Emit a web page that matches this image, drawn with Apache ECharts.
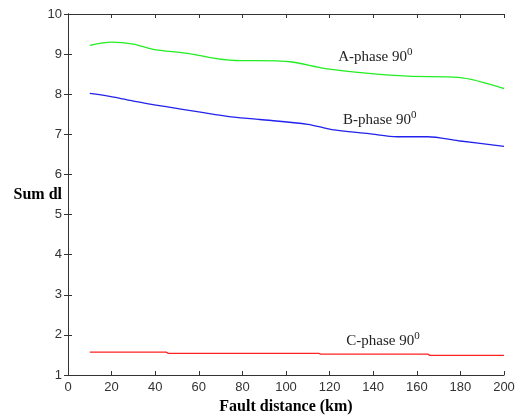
<!DOCTYPE html>
<html>
<head>
<meta charset="utf-8">
<script src="https://cdn.jsdelivr.net/npm/echarts@6/dist/echarts.min.js"></script>
<style>
  html, body { margin: 0; padding: 0; background: #fff; }
  #main { width: 518px; height: 416px; }
</style>
</head>
<body>
<div id="main"></div>
<script>
// values
const distA = [10, 20, 30, 39, 55, 68, 79, 87, 102, 118, 138, 156, 179, 200];
const phaseA = [9.22, 9.3, 9.25, 9.12, 9.02, 8.89, 8.84, 8.84, 8.81, 8.64, 8.52, 8.45, 8.42, 8.14];

const distB = [10, 21, 30, 45, 60, 76, 88, 110, 121, 138, 151, 165, 179, 200];
const phaseB = [8.02, 7.93, 7.83, 7.69, 7.56, 7.43, 7.37, 7.25, 7.12, 7.02, 6.94, 6.94, 6.84, 6.7];

const distC = [10, 45, 46, 115, 116, 165, 166, 200];
const phaseC = [1.57, 1.57, 1.54, 1.54, 1.52, 1.52, 1.49, 1.49];

const labelsText = ['{a|A-phase 90}{s|0}', '{a|B-phase 90}{s|0}', '{a|C-phase 90}{s|0}'];
const labelsAt = [[141, 8.97], [143, 7.4], [144.5, 1.89]];

function pairs(xs, ys) {
  return xs.map(function (x, i) { return [x, ys[i]]; });
}

let myChart = echarts.init(document.getElementById('main'));

const axisLine = { show: true, lineStyle: { color: '#333', width: 1 } };
const tickIn = { show: true, inside: true, length: 4, lineStyle: { color: '#333' } };
const serif = '"Liberation Serif", "DejaVu Serif", serif';
const sans = '"Liberation Sans", Arial, sans-serif';

const phaseLabel = {
  color: '#222',
  fontFamily: serif,
  rich: {
    a: { fontFamily: serif, fontSize: 15, color: '#222', lineHeight: 18, verticalAlign: 'bottom' },
    s: { fontFamily: serif, fontSize: 11, color: '#222', lineHeight: 18, verticalAlign: 'top', padding: [0, 0, 6, 0] }
  }
};

function markFor(i) {
  return {
    symbolSize: 0,
    data: [{ coord: labelsAt[i], label: { show: true, formatter: labelsText[i] } }],
    label: phaseLabel
  };
}

const option = {
  backgroundColor: '#fff',
  animation: false,
  grid: { left: 68, right: 14, top: 14, bottom: 41, outerBoundsMode: 'none', containLabel: false },
  xAxis: [
    {
      type: 'value', min: 0, max: 200, interval: 20,
      axisLine: axisLine, axisTick: tickIn, splitLine: { show: false },
      axisLabel: { color: '#333', fontSize: 13, fontFamily: sans, margin: 6 },
      name: 'Fault distance (km)', nameLocation: 'middle', nameGap: 24, nameMoveOverlap: false,
      nameTextStyle: { fontFamily: serif, fontWeight: 'bold', fontSize: 16, color: '#000' }
    },
    {
      type: 'value', position: 'top', min: 0, max: 200, interval: 20,
      axisLine: axisLine, axisTick: tickIn, axisLabel: { show: false }, splitLine: { show: false }
    }
  ],
  yAxis: [
    {
      type: 'value', min: 1, max: 10, interval: 1,
      axisLine: axisLine, axisTick: tickIn, splitLine: { show: false },
      axisLabel: { color: '#333', fontSize: 13, fontFamily: sans, margin: 6 },
      name: 'Sum dl', nameLocation: 'middle', nameRotate: 0, nameGap: 6, nameMoveOverlap: false,
      nameTextStyle: { fontFamily: serif, fontWeight: 'bold', fontSize: 16, color: '#000', align: 'right', verticalAlign: 'middle', padding: [0, 0, 12, 0] }
    },
    {
      type: 'value', position: 'right', min: 1, max: 10, interval: 1,
      axisLine: axisLine, axisTick: tickIn, axisLabel: { show: false }, splitLine: { show: false }
    }
  ],
  series: [
    {
      type: 'line', data: pairs(distA, phaseA), smooth: 0.3, showSymbol: false,
      lineStyle: { color: '#22ee22', width: 1.3 },
      markPoint: markFor(0)
    },
    {
      type: 'line', data: pairs(distB, phaseB), smooth: 0.3, showSymbol: false,
      lineStyle: { color: '#2222ee', width: 1.3 },
      markPoint: markFor(1)
    },
    {
      type: 'line', data: pairs(distC, phaseC), showSymbol: false,
      lineStyle: { color: '#ff2222', width: 1.3 },
      markPoint: markFor(2)
    }
  ]
};

myChart.setOption(option);
</script>
</body>
</html>
